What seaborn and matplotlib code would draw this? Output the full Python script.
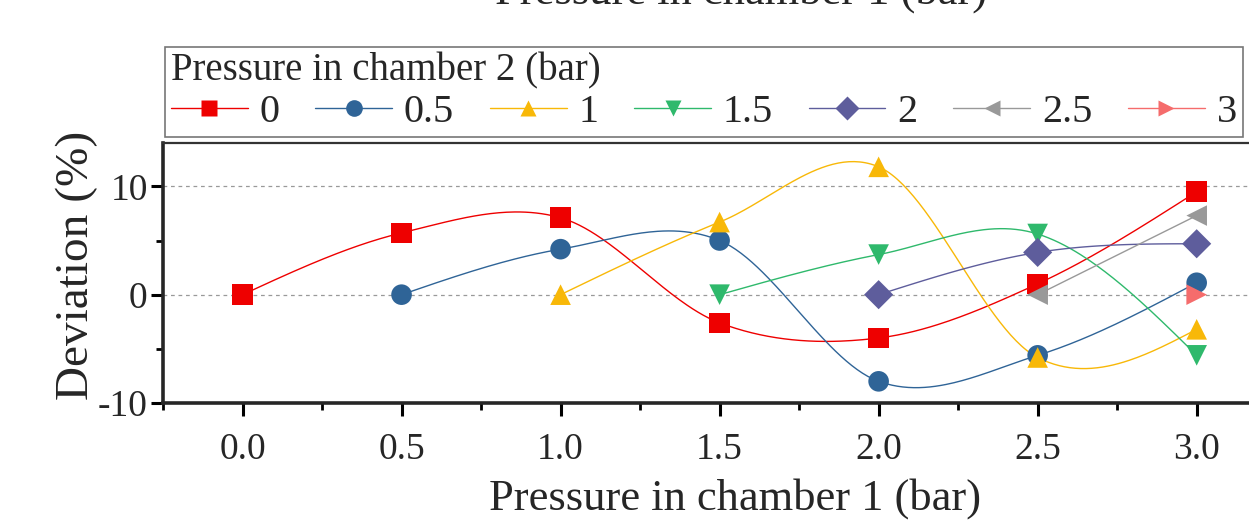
import numpy as np
import pandas as pd
import seaborn as sns
import matplotlib.pyplot as plt
from matplotlib.lines import Line2D
from matplotlib.ticker import MultipleLocator

# pressure in chamber 1 (x) and deviation (%) for every chamber 2 pressure
labels = ['0', '0.5', '1', '1.5', '2', '2.5', '3']
x_0 = [0.0, 0.5, 1.0, 1.5, 2.0, 2.5, 3.0]
dev_0 = [0.0, 5.7, 7.1, -2.6, -4.0, 1.0, 9.5]
x_05 = [0.5, 1.0, 1.5, 2.0, 2.5, 3.0]
dev_05 = [0.0, 4.2, 5.0, -8.0, -5.6, 1.1]
x_1 = [1.0, 1.5, 2.0, 2.5, 3.0]
dev_1 = [0.0, 6.7, 11.8, -5.8, -3.2]
x_15 = [1.5, 2.0, 2.5, 3.0]
dev_15 = [0.0, 3.7, 5.6, -5.6]
x_2 = [2.0, 2.5, 3.0]
dev_2 = [0.0, 3.9, 4.7]
x_25 = [2.5, 3.0]
dev_25 = [0.0, 7.3]
x_3 = [3.0]
dev_3 = [0.0]

colors = ['#ee0000', '#2f6497', '#f8b808', '#2fb96c', '#5e5d9c', '#999999', '#f56c6c']
markers = ['s', 'o', '^', 'v', 'D', '<', '>']

xs_all = [x_0, x_05, x_1, x_15, x_2, x_25, x_3]
ys_all = [dev_0, dev_05, dev_1, dev_15, dev_2, dev_25, dev_3]


def smooth_line(x, y, n=60):
    # cubic hermite through the points (catmull-rom tangents), like Origin's spline connector
    x = np.asarray(x, float)
    y = np.asarray(y, float)
    k = len(x)
    if k < 3:
        xs = np.linspace(x[0], x[-1], n)
        return xs, np.interp(xs, x, y)
    m = np.zeros(k)
    m[1:-1] = (y[2:] - y[:-2]) / (x[2:] - x[:-2])
    s = np.diff(y) / np.diff(x)
    m[0] = (3 * s[0] - m[1]) / 2
    m[-1] = (3 * s[-1] - m[-2]) / 2
    out_x, out_y = [], []
    for i in range(k - 1):
        h = x[i + 1] - x[i]
        t = np.linspace(0, 1, n)
        h00 = 2 * t ** 3 - 3 * t ** 2 + 1
        h10 = t ** 3 - 2 * t ** 2 + t
        h01 = -2 * t ** 3 + 3 * t ** 2
        h11 = t ** 3 - t ** 2
        out_x.append(x[i] + t * h)
        out_y.append(h00 * y[i] + h10 * h * m[i] + h01 * y[i + 1] + h11 * h * m[i + 1])
    return np.concatenate(out_x), np.concatenate(out_y)


pts = []
curves = []
for lab, xv, yv in zip(labels, xs_all, ys_all):
    pts.append(pd.DataFrame({'p1': xv, 'dev': yv, 'p2': lab}))
    if len(xv) > 1:
        cx, cy = smooth_line(xv, yv)
        curves.append(pd.DataFrame({'p1': cx, 'dev': cy, 'p2': lab}))
pts = pd.concat(pts, ignore_index=True)
curves = pd.concat(curves, ignore_index=True)

palette = dict(zip(labels, colors))
mk = dict(zip(labels, markers))

sns.set_style('white')
plt.rcParams['font.family'] = ['Liberation Serif', 'DejaVu Serif']

fig = plt.figure(figsize=(12.49, 5.25), dpi=100)
ax = fig.add_axes([163 / 1249, 122 / 525, 1145 / 1249, 260 / 525])

sns.lineplot(data=curves, x='p1', y='dev', hue='p2', palette=palette, sort=False,
             estimator=None, legend=False, linewidth=1.0, ax=ax, zorder=2)
sns.scatterplot(data=pts, x='p1', y='dev', hue='p2', style='p2', palette=palette,
                markers=mk, s=220, edgecolor='none', legend=False, ax=ax, zorder=3)

ax.set_xlim(-0.25, 3.35)
ax.set_ylim(-10, 14)
ax.xaxis.set_minor_locator(MultipleLocator(0.25))
ax.yaxis.set_minor_locator(MultipleLocator(5))
ax.set_xticks([0, 0.5, 1.0, 1.5, 2.0, 2.5, 3.0])
ax.set_xticklabels(['0.0', '0.5', '1.0', '1.5', '2.0', '2.5', '3.0'])
ax.set_yticks([-10, 0, 10])
ax.set_yticklabels(['-10', '0', '10'])
ax.tick_params(axis='both', which='major', direction='out', length=9, width=2.2,
               labelsize=27, color='black', bottom=True, left=True)
ax.tick_params(axis='both', which='minor', direction='out', length=5, width=2.0,
               color='black', bottom=True, left=True)
ax.tick_params(axis='x', pad=12)
ax.tick_params(axis='y', pad=2)

for yv in [0, 10]:
    ax.axhline(yv, color='#999999', lw=0.9, ls=(0, (3, 3)), zorder=1)

ax.spines['left'].set_linewidth(2.6)
ax.spines['bottom'].set_linewidth(2.6)
ax.spines['top'].set_linewidth(1.6)
ax.spines['top'].set_color('#333333')
ax.spines['right'].set_visible(False)

ax.set_xlabel('Pressure in chamber 1 (bar)', fontsize=32, labelpad=8)
ax.set_ylabel('Deviation (%)', fontsize=34, labelpad=0, y=0.53)

# cut-off duplicate axis title at the very top
fig.text(741 / 1249, 1 - 4 / 525, 'Pressure in chamber 1 (bar)', fontsize=32,
         ha='center', va='baseline')

handles = [Line2D([0], [0], color=c, marker=m, markersize=12, lw=1.0,
                  markeredgecolor='none', label=l)
           for c, m, l in zip(colors, markers, labels)]
leg = fig.legend(handles=handles, title='Pressure in chamber 2 (bar)', ncol=7,
                 loc='lower left', bbox_to_anchor=(165 / 1249, 388 / 525, 1078 / 1249, 105 / 525),
                 mode='expand', frameon=True, fancybox=False, fontsize=29,
                 title_fontsize=28, handlelength=1.9, handletextpad=0.3,
                 columnspacing=0.3, borderpad=0.15, labelspacing=0.1, borderaxespad=0)
leg._legend_box.align = 'left'
leg.get_frame().set_edgecolor('#555555')
leg.get_frame().set_linewidth(1.2)

fig.savefig('out.png', dpi=100)
